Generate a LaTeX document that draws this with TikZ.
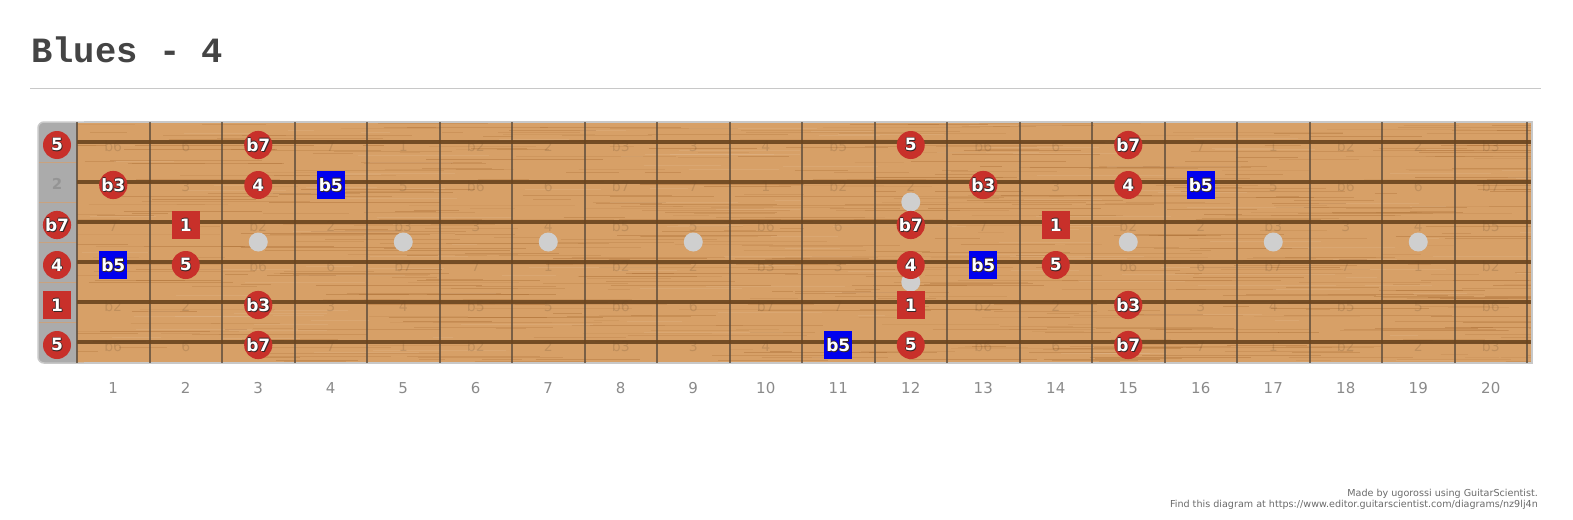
\documentclass[tikz,border=0pt]{standalone}
\usepackage{fontspec}
\setmainfont{DejaVu Sans}
\newfontfamily\titlefont{Liberation Mono}
\definecolor{mred}{HTML}{C8302A}
\definecolor{mblue}{HTML}{0000EE}
\definecolor{wood}{HTML}{D7A067}
\definecolor{grain}{HTML}{A86A30}
\definecolor{strc}{HTML}{6A441E}
\definecolor{fretc}{HTML}{5A4A3A}
\definecolor{nutc}{HTML}{ABABAB}
\definecolor{nutline}{HTML}{C9A27E}
\definecolor{dotc}{HTML}{CFCFCF}
\definecolor{olc}{HTML}{3A2626}
\definecolor{bordc}{HTML}{C8C8C8}
\definecolor{titlec}{HTML}{444444}
\definecolor{numc}{HTML}{8A8A8A}
\definecolor{credc}{HTML}{6A6A6A}
\newcommand\outl[1]{\leavevmode
 \rlap{\textcolor{olc}{\kern-0.7pt #1}}%
 \rlap{\textcolor{olc}{\kern0.7pt #1}}%
 \rlap{\textcolor{olc}{\raisebox{0.7pt}{#1}}}%
 \rlap{\textcolor{olc}{\raisebox{-0.7pt}{#1}}}%
 \rlap{\textcolor{olc}{\kern0.9pt\raisebox{-0.9pt}{#1}}}%
 \textcolor{white}{#1}}
\def\markerlist{1/0/c/5, 1/3/c/b7, 1/12/c/5, 1/15/c/b7,
2/1/c/b3, 2/3/c/4, 2/4/b/b5, 2/13/c/b3, 2/15/c/4, 2/16/b/b5,
3/0/c/b7, 3/2/r/1, 3/12/c/b7, 3/14/r/1,
4/0/c/4, 4/1/b/b5, 4/2/c/5, 4/12/c/4, 4/13/b/b5, 4/14/c/5,
5/0/r/1, 5/3/c/b3, 5/12/r/1, 5/15/c/b3,
6/0/c/5, 6/3/c/b7, 6/11/b/b5, 6/12/c/5, 6/15/c/b7}
\tikzset{
 mkfont/.style={font=\bfseries\fontsize{17}{17}\selectfont},
 mkc/.style={circle, fill=mred, minimum size=28pt, inner sep=0pt, mkfont},
 mkr/.style={rectangle, fill=mred, minimum size=28pt, inner sep=0pt, mkfont},
 mkb/.style={rectangle, fill=mblue, minimum size=28pt, inner sep=0pt, mkfont},
 ghost/.style={inner sep=0pt, text=black, text opacity=0.11, font=\fontsize{14}{14}\selectfont},
 inlay/.style={circle, fill=dotc, minimum size=19pt, inner sep=0pt},
 fretnum/.style={inner sep=0pt, text=numc, font=\fontsize{15}{15}\selectfont},
}
\begin{document}
\begin{tikzpicture}[x=1pt,y=-1pt]
\useasboundingbox (0,0) rectangle (1573,519);
% title
\node[anchor=base west, inner sep=0pt, text=titlec, font=\titlefont\bfseries\fontsize{35.5}{36}\selectfont] (title) at (31,63) {Blues - 4};
\draw[bordc, line width=1] (30,88) -- (1541,88);
% nut
\fill[nutc, rounded corners=6] (38,122) rectangle (95,363);
\foreach \y in {162,202,242,282,322} \draw[nutline, line width=0.7] (38,\y) -- (77,\y);
% wood
\fill[wood] (77,122) rectangle (1531,363);
\begin{scope}
\clip (77,122) rectangle (1531,363);
\pgfmathsetseed{11}
\foreach \i in {1,...,650}{
 \pgfmathsetmacro\yy{122+241*rnd}
 \pgfmathsetmacro\xx{60+1470*rnd}
 \pgfmathsetmacro\ll{20+160*rnd}
 \pgfmathsetmacro\oo{0.1+0.3*rnd}
 \draw[grain, opacity=\oo, line width=0.6] (\xx,\yy) -- ++(\ll,0);
}
\pgfmathsetseed{5}
\foreach \i in {1,...,150}{
 \pgfmathsetmacro\yy{122+241*rnd}
 \pgfmathsetmacro\xx{60+1470*rnd}
 \pgfmathsetmacro\ll{20+120*rnd}
 \draw[white, opacity=0.08, line width=0.8] (\xx,\yy) -- ++(\ll,0);
}
\end{scope}
% border
\draw[bordc, line width=1.5, rounded corners=6] (90,122) -- (38,122) -- (38,363) -- (90,363);
\draw[bordc, line width=1.5] (84,122) -- (1532,122) -- (1532,363) -- (84,363);
% used positions
\foreach \s/\f/\k/\l in \markerlist {\expandafter\gdef\csname used-\s-\f\endcsname{}}
% ghost labels
\node[inner sep=0pt, text=black, text opacity=0.13, font=\bfseries\fontsize{15}{15}\selectfont] (g-2-0) at (57,184) {2};
\foreach \s/\o in {1/7,2/2,3/10,4/5,5/0,6/7}{
 \foreach \f in {1,...,20}{
  \ifcsname used-\s-\f\endcsname\else
   \pgfmathparse{{"1","b2","2","b3","3","4","b5","5","b6","6","b7","7"}[int(mod(\o+\f,12))]}
   \let\gl\pgfmathresult
   \node[ghost] (g-\s-\f) at ({40.75+72.5*\f},{102+40*\s+4}) {\gl};
  \fi
 }
}
% inlays
\foreach \f in {3,5,7,9,15,17,19} \node[inlay] (d-\f) at ({40.75+72.5*\f},242) {};
\node[inlay] (d-12a) at ({40.75+72.5*12},202) {};
\node[inlay] (d-12b) at ({40.75+72.5*12},282) {};
% frets
\draw[fretc, line width=1.5, opacity=0.8] (77,122) -- (77,363);
\foreach \n in {1,...,20} \draw[fretc, line width=2, opacity=0.75] ({77+72.5*\n},122) -- ({77+72.5*\n},363);
% strings
\foreach \s in {1,...,6} \draw[strc, line width=3.2, opacity=0.9] (77,{102+40*\s}) -- (1531,{102+40*\s});
% markers
\foreach \s/\f/\k/\l in \markerlist {
 \pgfmathsetmacro\xx{\f==0 ? 57 : 40.75+72.5*\f}
 \node[mk\k] (m-\s-\f) at (\xx,{102+40*\s+3}) {\outl{\l}};
}
% fret numbers
\foreach \n in {1,...,20} \node[fretnum] (fn-\n) at ({40.75+72.5*\n},388) {\n};
% credits
\node[anchor=base east, inner sep=0pt, text=credc, font=\fontsize{9.6}{9.6}\selectfont] (cred1) at (1538,496) {Made by ugorossi using GuitarScientist.};
\node[anchor=base east, inner sep=0pt, text=credc, font=\fontsize{9.6}{9.6}\selectfont] (cred2) at (1538,507) {Find this diagram at https://www.editor.guitarscientist.com/diagrams/nz9lj4n};
\end{tikzpicture}
\end{document}
